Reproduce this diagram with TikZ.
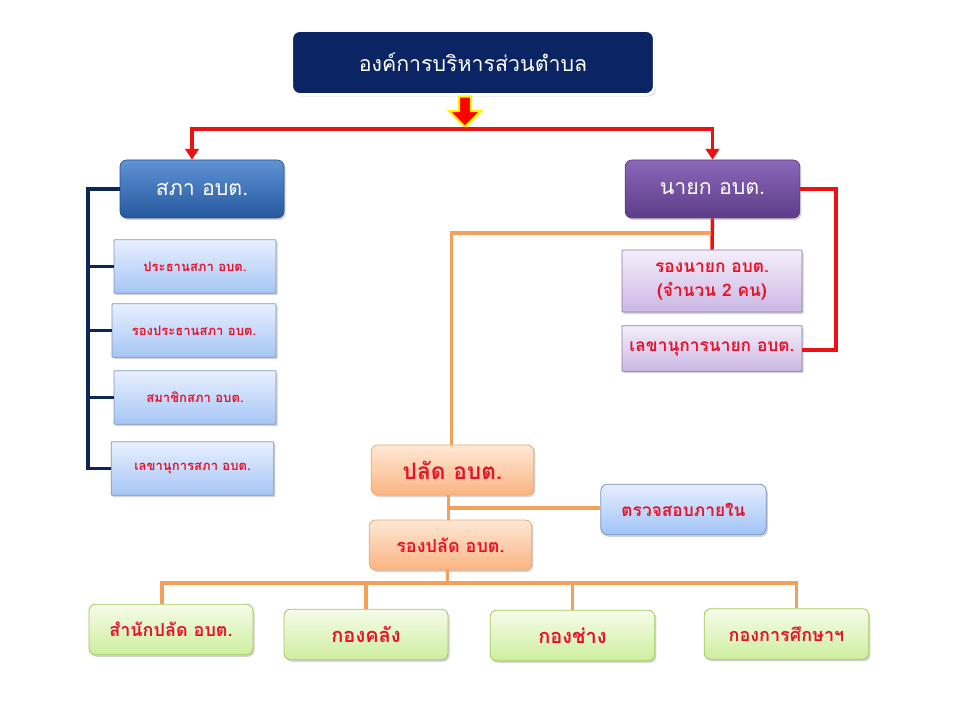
\documentclass[tikz,border=0pt]{standalone}
\usepackage{fontspec}
\newfontfamily\thai[Script=Thai]{Loma}
\usetikzlibrary{shadows,arrows.meta,calc}
\definecolor{titlenavy}{HTML}{0B2463}
\definecolor{navyline}{HTML}{0D2557}
\definecolor{redtxt}{HTML}{E3142C}
\definecolor{redln}{HTML}{EE1111}
\definecolor{orangeln}{HTML}{F5A05A}
\begin{document}
\begin{tikzpicture}[x=0.75pt,y=-0.75pt,
  base/.style={rounded corners=2pt, drop shadow={shadow xshift=1.2pt,shadow yshift=-1.5pt,opacity=0.35}, align=center, inner sep=0pt, font=\thai},
  titlebox/.style={base, rounded corners=6pt, fill=titlenavy, draw=white, line width=2.2pt, text=white, font=\thai\fontsize{16}{19}\selectfont},
  sapabox/.style={base, rounded corners=5pt, top color={rgb,255:red,96;green,146;blue,214}, bottom color={rgb,255:red,38;green,88;blue,158}, draw={rgb,255:red,40;green,80;blue,140}, line width=0.5pt, text=white, font=\thai\fontsize{16}{19}\selectfont},
  nayokbox/.style={base, rounded corners=5pt, top color={rgb,255:red,140;green,104;blue,184}, bottom color={rgb,255:red,92;green,60;blue,136}, draw={rgb,255:red,90;green,60;blue,130}, line width=0.5pt, text=white, font=\thai\fontsize{16}{19}\selectfont},
  lbbox/.style={base, rounded corners=0.5pt, top color={rgb,255:red,232;green,240;blue,255}, bottom color={rgb,255:red,166;green,197;blue,245}, draw={rgb,255:red,125;green,150;blue,195}, line width=0.6pt, text=redtxt, font=\thai\bfseries\fontsize{9.8}{12}\selectfont},
  lpbox/.style={base, rounded corners=0.5pt, top color={rgb,255:red,244;green,238;blue,250}, bottom color={rgb,255:red,203;green,183;blue,228}, draw={rgb,255:red,140;green,120;blue,175}, line width=0.6pt, text=redtxt, font=\thai\bfseries\fontsize{13}{18}\selectfont},
  peachbox/.style={base, rounded corners=5pt, top color={rgb,255:red,254;green,232;blue,214}, bottom color={rgb,255:red,250;green,180;blue,130}, draw={rgb,255:red,240;green,165;blue,105}, line width=0.6pt, text=redtxt, font=\thai\bfseries\fontsize{13.5}{17}\selectfont},
  auditbox/.style={base, rounded corners=5pt, top color={rgb,255:red,230;green,238;blue,255}, bottom color={rgb,255:red,160;green,195;blue,245}, draw={rgb,255:red,120;green,145;blue,190}, line width=0.6pt, text=redtxt, font=\thai\bfseries\fontsize{13}{15}\selectfont},
  greenbox/.style={base, rounded corners=5pt, top color={rgb,255:red,246;green,252;blue,234}, bottom color={rgb,255:red,205;green,238;blue,158}, draw={rgb,255:red,160;green,200;blue,95}, line width=0.6pt, text=redtxt, font=\thai\bfseries\fontsize{13.5}{15}\selectfont},
  redline/.style={draw=redln, line width=2.6pt},
  navyl/.style={draw=navyline, line width=2.6pt},
  orl/.style={draw=orangeln, line width=2.4pt},
  redarrow/.style={redline, -{Triangle[width=10pt,length=8pt]}}
]
\useasboundingbox (0,0) rectangle (960,720);

% title
\node[titlebox, minimum width=272pt, minimum height=48pt] (title) at (473,62.5) {องค์การบริหารส่วนตำบล};

% main boxes
\node[sapabox, minimum width=123pt, minimum height=43.5pt] (sapa) at (202,189) {สภา อบต.};
\node[nayokbox, minimum width=131pt, minimum height=43.5pt] (nayok) at (712.5,189) {นายก อบต.};

% left list
\node[lbbox, minimum width=121.5pt, minimum height=40pt] (s1) at (195,266.5) {ประธานสภา อบต.};
\node[lbbox, minimum width=123pt, minimum height=40pt] (s2) at (194,330.5) {รองประธานสภา อบต.};
\node[lbbox, minimum width=121.5pt, minimum height=40pt] (s3) at (195,397.5) {สมาชิกสภา อบต.};
\node[lbbox, minimum width=122pt, minimum height=40pt] (s4) at (192.5,468.5) {เลขานุการสภา อบต.};

% right list
\node[lpbox, minimum width=135pt, minimum height=46.5pt] (vice) at (712,281) {รองนายก อบต.\\(จำนวน 2 คน)};
\node[lpbox, minimum width=135pt, minimum height=34pt] (sec) at (712,348.5) {เลขานุการนายก อบต.};

% middle
\node[peachbox, minimum width=122pt, minimum height=37.5pt, font=\thai\bfseries\fontsize{17}{20}\selectfont] (palad) at (452.5,470) {ปลัด อบต.};
\node[peachbox, minimum width=122pt, minimum height=37.5pt] (rpalad) at (450.5,545) {รองปลัด อบต.};
\node[auditbox, minimum width=124pt, minimum height=38pt] (audit) at (683.5,509.5) {ตรวจสอบภายใน};

% bottom
\node[greenbox, minimum width=123pt, minimum height=38pt] (b1) at (171,629.5) {สำนักปลัด อบต.};
\node[greenbox, minimum width=123pt, minimum height=38pt, font=\thai\bfseries\fontsize{15}{17}\selectfont] (b2) at (366,634.5) {กองคลัง};
\node[greenbox, minimum width=123.5pt, minimum height=38pt, font=\thai\bfseries\fontsize{15}{17}\selectfont] (b3) at (572.5,635.5) {กองช่าง};
\node[greenbox, minimum width=123.5pt, minimum height=38pt] (b4) at (786.5,634) {กองการศึกษาฯ};

% big arrow below title
\draw[fill=red, draw=yellow, line width=1.6pt, line join=miter]
  (459,96.5) -- (471,96.5) -- (471,111) -- (481,111) -- (465,127) -- (449,111) -- (459,111) -- cycle;

% red top connectors
\coordinate (rj) at (465,129);
\coordinate (sapaTop) at ($(sapa.north)+(-10,0)$);
\draw[redarrow] (rj) -| (sapaTop);
\draw[redarrow] (rj) -| (nayok.north);

% navy bracket
\coordinate (lb) at (88,0);
\draw[navyl] (sapa.west) -- (sapa.west -| lb) |- (s4.west);
\foreach \n in {s1,s2,s3} \draw[navyl] (\n.west) -- (\n.west -| lb);

% red nayok connectors
\coordinate (rb) at (836,0);
\coordinate (secR) at ($(sec.east)+(0,1.5)$);
\draw[redline] (nayok.east) -- (nayok.east -| rb) |- (secR);
\draw[redline] (nayok.south) -- (vice.north);

% orange
\coordinate (oj) at (711,233);
\coordinate (paladTop) at ($(palad.north)+(-1,0)$);
\draw[orl] (oj) -| (paladTop);
\coordinate (paladBot) at ($(palad.south)+(-4,0)$);
\coordinate (rpaladTop) at (paladBot |- rpalad.north);
\draw[orl] (paladBot) -- (rpaladTop);
\coordinate (auditW) at ($(audit.west)+(0,-1.5)$);
\coordinate (pj) at (paladBot |- auditW);
\draw[orl] (auditW) -- (pj);
\coordinate (rpaladBot) at ($(rpalad.south)+(-3,0)$);
\coordinate (bj) at (rpaladBot |- 0,583);
\draw[orl] (rpaladBot) -- (bj);
\coordinate (b1Top) at ($(b1.north)+(-9,0)$);
\coordinate (b4Top) at ($(b4.north)+(10,0)$);
\coordinate (bl) at (b1Top |- bj);
\coordinate (br) at (b4Top |- bj);
\draw[orl] (b1Top) -- (bl) -- (br) -- (b4Top);
\draw[orl] (b2.north) -- (b2.north |- bj);
\draw[orl] (b3.north) -- (b3.north |- bj);
\end{tikzpicture}
\end{document}
